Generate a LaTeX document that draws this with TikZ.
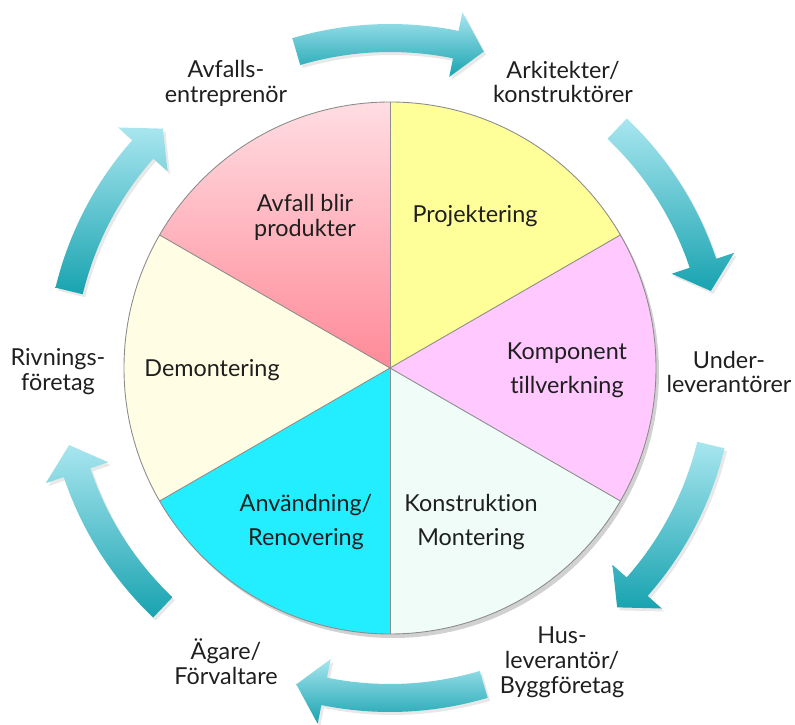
\documentclass[tikz,border=0pt]{standalone}
\usepackage{fontspec}
\setmainfont{Lato}[Ligatures=NoCommon]
\usetikzlibrary{shadows}

\definecolor{projyellow}{HTML}{FFFF99}
\definecolor{kompviolet}{HTML}{FFC8FF}
\definecolor{montmint}{HTML}{F0FCF7}
\definecolor{anvcyan}{HTML}{22EEFF}
\definecolor{demcream}{HTML}{FFFEE4}
\definecolor{avftop}{HTML}{FFDDE2}
\definecolor{avfbot}{HTML}{FF8A98}
\definecolor{arrowtop}{HTML}{A8E6EF}
\definecolor{arrowbot}{HTML}{18A3B0}

\begin{document}
\begin{tikzpicture}[
  sector/.style={draw=black!45,line width=0.5pt},
  lbl/.style={font=\fontsize{13.3}{14.2}\selectfont,text=black!88,align=center},
  cycarrow/.style={top color=arrowtop,bottom color=arrowbot,draw=none,
    drop shadow={opacity=0.18,shadow xshift=0.05,shadow yshift=-0.06}},
]
\useasboundingbox (-7.8,-7.14) rectangle (8.1,7.36);

% the pie, six steps of 60 degrees
\fill[black,opacity=0.18] (0.06,-0.08) circle (5.32);
\fill[projyellow] (0,0) -- (30:5.32) arc[start angle=30,end angle=90,radius=5.32] -- cycle;
\fill[kompviolet] (0,0) -- (-30:5.32) arc[start angle=-30,end angle=30,radius=5.32] -- cycle;
\fill[montmint] (0,0) -- (-90:5.32) arc[start angle=-90,end angle=-30,radius=5.32] -- cycle;
\fill[anvcyan] (0,0) -- (-150:5.32) arc[start angle=-150,end angle=-90,radius=5.32] -- cycle;
\fill[demcream] (0,0) -- (150:5.32) arc[start angle=150,end angle=210,radius=5.32] -- cycle;
\shade[top color=avftop,bottom color=avfbot] (0,0) -- (90:5.32) arc[start angle=90,end angle=150,radius=5.32] -- cycle;
\draw[sector] (0,0) circle (5.32);
\foreach \a in {90,30,-30,-90,-150,150}
  \draw[sector] (0,0) -- (\a:5.32);

\node[lbl] (avfall) at (-1.7,3.02) {Avfall blir\\produkter};
\node[lbl] (projekt) at (1.7,3.04) {Projektering};
\node[lbl] (komponent) at (3.54,-0.04) {Komponent\\[5pt]tillverkning};
\node[lbl] (montering) at (1.62,-3.08) {Konstruktion\\[5.5pt]Montering};
\node[lbl] (anvandning) at (-1.68,-3.08) {Användning/\\[5.5pt]Renovering};
\node[lbl] (demont) at (-3.56,-0.04) {Demontering};

% curved arrows round the circle
\foreach \c in {90,30,-30,-90,-150,150}
  \path[cycarrow] ({\c+16.5}:6.88) arc[start angle=\c+16.5,end angle=\c-11.5,radius=6.88]
    -- ({\c-11.5}:7.26) -- ({\c-16.5}:6.6) -- ({\c-11.5}:5.94) -- ({\c-11.5}:6.32)
    arc[start angle=\c-11.5,end angle=\c+16.5,radius=6.32] -- cycle;

\node[lbl] (arkitekt) at (3.46,5.72) {Arkitekter/\\konstruktörer};
\node[lbl] (underlev) at (6.78,-0.08) {Under-\\leverantörer};
\node[lbl] (huslev) at (3.44,-5.88) {Hus-\\leverantör/\\Byggföretag};
\node[lbl] (agare) at (-3.28,-5.88) {Ägare/\\Förvaltare};
\node[lbl] (rivning) at (-6.64,-0.08) {Rivnings-\\företag};
\node[lbl] (avfallsent) at (-3.28,5.7) {Avfalls-\\entreprenör};

\end{tikzpicture}
\end{document}
